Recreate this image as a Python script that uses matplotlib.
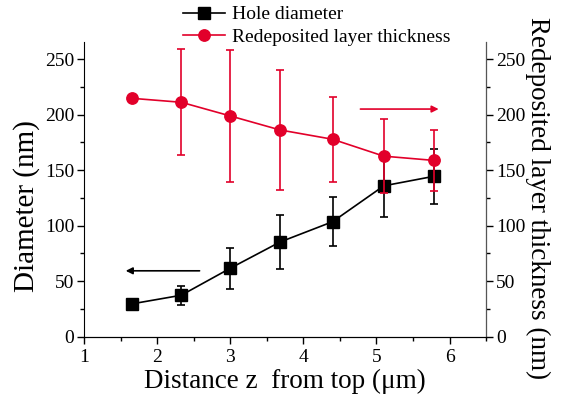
import matplotlib
matplotlib.use("Agg")
import matplotlib.pyplot as plt
from matplotlib.lines import Line2D
from matplotlib.ticker import MultipleLocator

plt.rcParams['font.family'] = ['Liberation Serif', 'DejaVu Serif']

# data
z = [1.65, 2.33, 3.0, 3.68, 4.4, 5.1, 5.78]
hole_diam = [29.6, 37.4, 61.7, 85.3, 103.6, 135.9, 144.4]
hole_err = [0, 8.5, 18.3, 24.7, 22.2, 28.2, 24.7]
redep = [214.7, 211.1, 198.8, 186.2, 177.8, 162.6, 158.8]
redep_err = [0, 47.7, 59.6, 54.0, 38.5, 33.2, 27.2]

red = '#e2002a'

fig = plt.figure(figsize=(5.64, 4.0), dpi=100)
ax = fig.add_axes([0.149, 0.158, 0.713, 0.736])
ax2 = ax.twinx()

ax.errorbar(z, hole_diam, yerr=hole_err, color='black', marker='s', ms=8,
            lw=1.2, elinewidth=1.2, capsize=3, capthick=1.2, zorder=3)
ax2.errorbar(z, redep, yerr=redep_err, color=red, marker='o', ms=8.2,
             lw=1.2, elinewidth=1.2, capsize=3, capthick=1.2, zorder=3)

# arrows pointing to the axis each curve belongs to
ax.annotate('', xy=(1.57, 59.4), xytext=(2.58, 59.4),
            arrowprops=dict(arrowstyle='-|>', color='black', lw=1.2,
                            mutation_scale=10, shrinkA=0, shrinkB=0))
ax2.annotate('', xy=(5.85, 205), xytext=(4.78, 205),
             arrowprops=dict(arrowstyle='-|>', color=red, lw=1.2,
                             mutation_scale=10, shrinkA=0, shrinkB=0))

for a in (ax, ax2):
    a.set_xlim(1, 6.5)
    a.set_ylim(0, 265)
    a.yaxis.set_major_locator(MultipleLocator(50))
    a.yaxis.set_minor_locator(MultipleLocator(25))
    a.spines['top'].set_visible(False)
    a.tick_params(which='both', direction='out', labelsize=14)
    a.tick_params(which='major', length=5, width=1)
    a.tick_params(which='minor', length=3, width=1)

ax.xaxis.set_major_locator(MultipleLocator(1))
ax.xaxis.set_minor_locator(MultipleLocator(0.5))
ax.tick_params(axis='y', pad=2)
ax2.tick_params(axis='y', pad=2)
ax2.spines['right'].set_color('#555555')
ax2.spines['left'].set_visible(False)

ax.set_xlabel('Distance z  from top (\u03bcm)', fontsize=19.5, labelpad=2)
ax.set_ylabel('Diameter (nm)', fontsize=21, va='center')
ax.yaxis.set_label_coords(-0.142, 0.445)
ax2.set_ylabel('Redeposited layer thickness (nm)', fontsize=19.5,
               rotation=270, va='center')
ax2.yaxis.set_label_coords(1.128, 0.47)

handles = [
    Line2D([], [], color='black', marker='s', ms=8, lw=1.2),
    Line2D([], [], color=red, marker='o', ms=8.2, lw=1.2),
]
labels = ['Hole diameter', 'Redeposited layer thickness']
fig.legend(handles, labels, loc='upper left', bbox_to_anchor=(0.31, 1.005),
           frameon=False, fontsize=14, handlelength=2.2, handletextpad=0.35,
           labelspacing=0.25, borderaxespad=0)

fig.savefig('out.png', dpi=100)
